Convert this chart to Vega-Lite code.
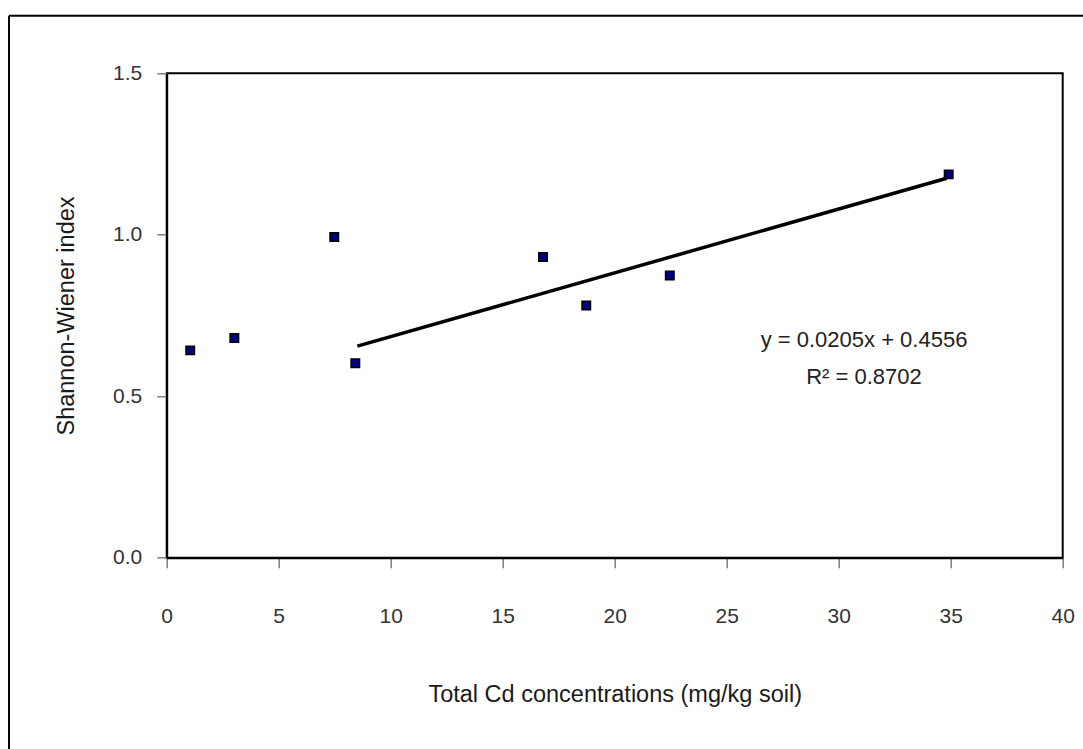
{
  "$schema": "https://vega.github.io/schema/vega-lite/v6.json",
  "autosize": {"type": "none"},
  "padding": {"left": 166.7, "top": 73.3, "right": 20.3, "bottom": 191.3},
  "width": 896,
  "height": 484.4,
  "background": "white",
  "config": {
    "font": "Liberation Sans",
    "view": {"stroke": "black", "strokeWidth": 2},
    "axis": {
      "domainColor": "black",
      "domainWidth": 2,
      "tickColor": "#808080",
      "tickWidth": 1.5,
      "tickSize": 10,
      "grid": false,
      "labelFont": "Liberation Sans",
      "labelFontSize": 21,
      "labelColor": "#333333",
      "titleFont": "Liberation Sans",
      "titleFontSize": 23.5,
      "titleFontWeight": "normal",
      "titleColor": "#1a1a1a"
    }
  },
  "datasets": {
    "points": [
      {"cd": 1.05, "h": 0.642},
      {"cd": 3.02, "h": 0.680},
      {"cd": 7.48, "h": 0.993},
      {"cd": 8.42, "h": 0.602},
      {"cd": 16.80, "h": 0.931},
      {"cd": 18.73, "h": 0.781},
      {"cd": 22.46, "h": 0.874},
      {"cd": 34.91, "h": 1.187}
    ],
    "trend": [
      {"cd": 8.51, "h": 0.655},
      {"cd": 34.82, "h": 1.175}
    ],
    "one": [{}]
  },
  "layer": [
    {
      "data": {"name": "trend"},
      "mark": {"type": "line", "color": "black", "strokeWidth": 3.5},
      "encoding": {
        "x": {
          "field": "cd", "type": "quantitative",
          "scale": {"domain": [0, 40], "nice": false, "zero": false},
          "axis": {
            "values": [0, 5, 10, 15, 20, 25, 30, 35, 40],
            "labelPadding": 38,
            "labelFlush": false,
            "titlePadding": 56,
            "title": "Total Cd concentrations (mg/kg soil)"
          }
        },
        "y": {
          "field": "h", "type": "quantitative",
          "scale": {"domain": [0, 1.5], "nice": false, "zero": false},
          "axis": {
            "values": [0, 0.5, 1.0, 1.5],
            "format": ".1f",
            "labelPadding": 15,
            "labelFlush": false,
            "titlePadding": 34,
            "title": "Shannon-Wiener index"
          }
        }
      }
    },
    {
      "data": {"name": "points"},
      "mark": {"type": "point", "shape": "square", "filled": true, "fill": "#000080", "stroke": "black", "strokeWidth": 1.5, "size": 72, "opacity": 1},
      "encoding": {
        "x": {"field": "cd", "type": "quantitative"},
        "y": {"field": "h", "type": "quantitative"}
      }
    },
    {
      "data": {"name": "one"},
      "mark": {"type": "text", "font": "Liberation Sans", "fontSize": 22, "color": "#222222", "align": "center", "baseline": "middle"},
      "encoding": {
        "x": {"datum": 31.13, "type": "quantitative"},
        "y": {"datum": 0.673, "type": "quantitative"},
        "text": {"value": "y = 0.0205x + 0.4556"}
      }
    },
    {
      "data": {"name": "one"},
      "mark": {"type": "text", "font": "Liberation Sans", "fontSize": 22, "color": "#222222", "align": "center", "baseline": "middle"},
      "encoding": {
        "x": {"datum": 31.13, "type": "quantitative"},
        "y": {"datum": 0.559, "type": "quantitative"},
        "text": {"value": "R² = 0.8702"}
      }
    },
    {
      "data": {"name": "one"},
      "mark": {"type": "rule", "color": "black", "strokeWidth": 2},
      "encoding": {
        "x": {"datum": -7.04, "type": "quantitative"},
        "x2": {"datum": 42},
        "y": {"datum": 1.678, "type": "quantitative"}
      }
    },
    {
      "data": {"name": "one"},
      "mark": {"type": "rule", "color": "black", "strokeWidth": 2},
      "encoding": {
        "x": {"datum": -7.04, "type": "quantitative"},
        "y": {"datum": 1.678, "type": "quantitative"},
        "y2": {"datum": -0.7}
      }
    }
  ]
}
